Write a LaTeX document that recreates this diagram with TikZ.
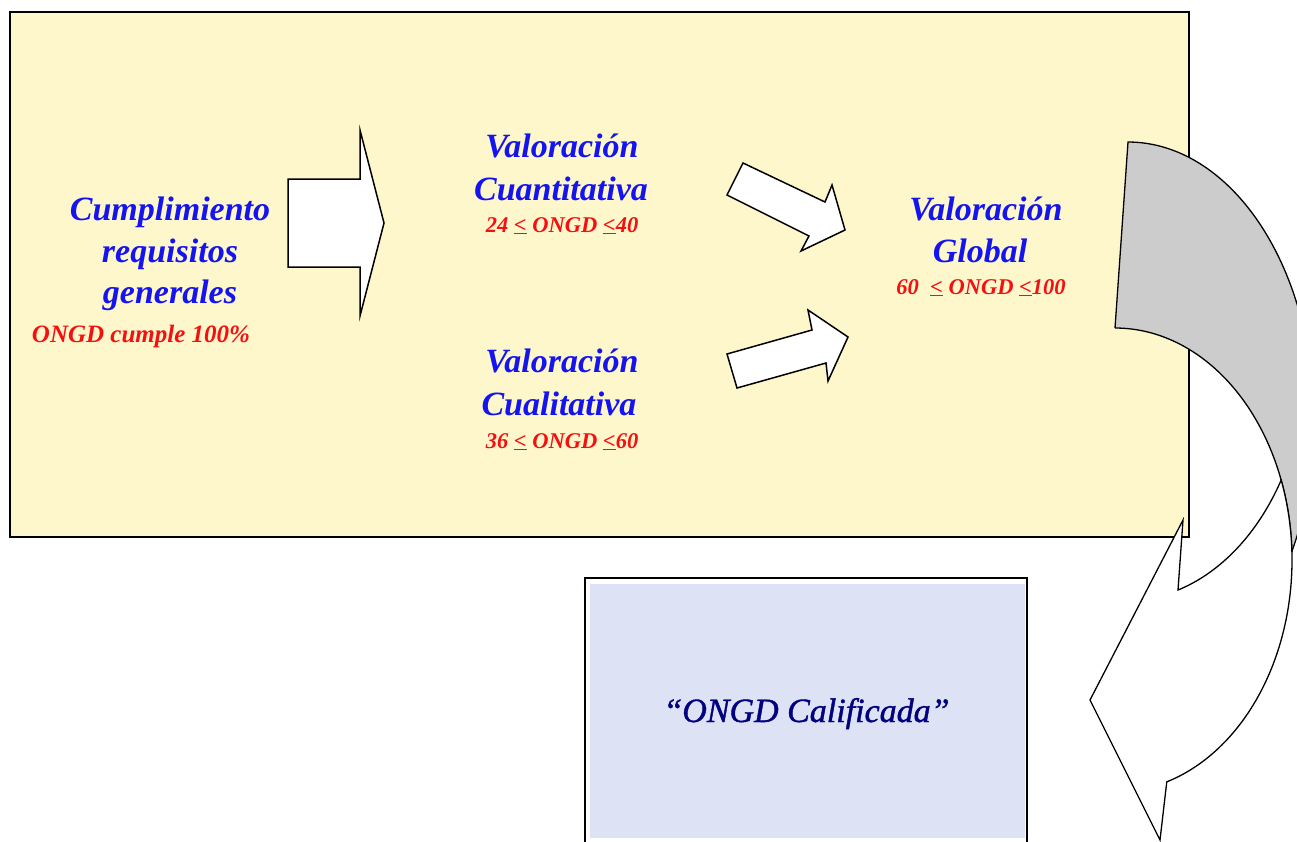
\documentclass[tikz,border=0pt]{standalone}
\usepackage{fontspec}
\setmainfont{Liberation Serif}
\newfontface\navyface{Liberation Serif Italic}[FakeBold=1.2]
\definecolor{boxyellow}{RGB}{255,247,204}
\definecolor{boxblue}{RGB}{221,227,245}
\definecolor{titleblue}{RGB}{20,20,240}
\definecolor{numred}{RGB}{245,15,15}
\definecolor{navy}{RGB}{0,0,128}
\definecolor{backgray}{RGB}{204,204,204}
\begin{document}
\begin{tikzpicture}[x=1pt,y=-1pt,
  outl/.style={draw=black,line width=1.5pt,line join=miter},
  curv/.style={draw=black,line width=1.3pt,line join=miter},
  bluetxt/.style={text=titleblue,font=\fontsize{34}{40}\selectfont\bfseries\itshape,inner sep=0pt,anchor=base},
  redtxt/.style={text=numred,font=\fontsize{22.5}{26}\selectfont\bfseries\itshape,inner sep=0pt,anchor=base},
  navytxt/.style={text=navy,font=\navyface\fontsize{34}{40}\selectfont,inner sep=0pt,anchor=base}]
\clip (0,0) rectangle (1297,841);
\fill[white] (0,0) rectangle (1297,841);
% main yellow panel
\draw[outl,fill=boxyellow] (10,12) rectangle (1189,537);
% block arrows
\draw[outl,fill=white] (288,179) -- (360,179) -- (360,130) -- (384,223) -- (360,316) -- (360,267) -- (288,267) -- cycle;
\draw[outl,fill=white] (743,163) -- (825,202) -- (832,185) -- (845,230) -- (801,251) -- (809,236) -- (727,195) -- cycle;
\draw[outl,fill=white] (727,354) -- (812,330) -- (808,310) -- (848,337) -- (828,381) -- (826,363) -- (737,388) -- cycle;
% texts
\node[bluetxt] (c1) at (170,220) {Cumplimiento};
\node[bluetxt] (c2) at (170,262) {requisitos};
\node[bluetxt] (c3) at (170,303) {generales};
\node[redtxt,font=\fontsize{25}{30}\selectfont\bfseries\itshape] (c4) at (141,342) {ONGD cumple 100\%};
\node[bluetxt] (q1) at (562,157) {Valoración};
\node[bluetxt] (q2) at (561,200) {Cuantitativa};
\node[redtxt] (q3) at (562,232) {24 \underline{<} ONGD \underline{<}40};
\node[bluetxt] (l1) at (562,372) {Valoración};
\node[bluetxt] (l2) at (559,415) {Cualitativa};
\node[redtxt] (l3) at (562,448) {36 \underline{<} ONGD \underline{<}60};
\node[bluetxt] (g1) at (986,220) {Valoración};
\node[bluetxt] (g2) at (980,262) {Global};
\node[redtxt] (g3) at (981,294) {60\ \ \underline{<}\ ONGD \underline{<}100};
% result box
\draw[line width=2pt,fill=white] (585,578) rectangle (1027,860);
\fill[boxblue] (589.5,583.5) rectangle (1024.5,838);
\node[navytxt] (res) at (806.5,722) {“ONGD Calificada”};
% curved arrow: back band
\fill[backgray] (1115,328) -- (1128,142)
  -- plot[domain=90:-28.2,samples=80] ({1128+186*cos(\x)},{420-278*sin(\x)})
  -- plot[domain=2.1:90,samples=80] ({1115+177*cos(\x)},{560-232*sin(\x)}) -- cycle;
\draw[curv] (1115,328) -- (1128,142)
  -- plot[domain=90:-28.2,samples=80] ({1128+186*cos(\x)},{420-278*sin(\x)});
\draw[curv] plot[domain=90:2.1,samples=80] ({1115+177*cos(\x)},{560-232*sin(\x)});
% curved arrow: front band with head
\draw[curv,fill=white] plot[domain=20.2:-73,samples=80] ({1115+177*cos(\x)},{560-232*sin(\x)})
  -- (1160,840) -- (1090,700) -- (1183,520) -- (1178,590)
  .. controls (1215,575) and (1255,540) .. (1281.2,480) -- cycle;
\end{tikzpicture}
\end{document}
